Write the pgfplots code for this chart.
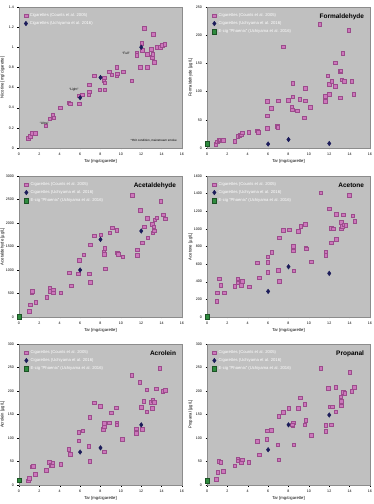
\documentclass[border=0pt]{standalone}
\usepackage{fontspec}
\setmainfont{Liberation Sans}
\usepackage{pgfplots}
\pgfplotsset{compat=1.18}
\definecolor{bgray}{HTML}{C0C0C0}
\definecolor{fgray}{HTML}{8C8C8C}
\definecolor{pinkf}{HTML}{CC77BB}
\definecolor{pinkd}{HTML}{9C4C8C}
\definecolor{navy}{HTML}{1C1C5A}
\definecolor{egreen}{HTML}{2E8B3E}
\tikzset{ttl/.style={font=\fontsize{6.5}{7}\selectfont\bfseries, anchor=north east}}
\pgfplotsset{
  panel/.style={
    scale only axis, width=163pt, height=141pt,
    axis background/.style={fill=bgray},
    axis line style={draw=fgray, line width=0.6pt},
    xmin=0, xmax=16, xtick={0,2,...,16}, ymin=0,
    tick align=outside, major tick length=1.5pt,
    tick style={black, line width=0.3pt},
    xtick pos=bottom, ytick pos=left,
    tick label style={font=\fontsize{3.6}{4}\selectfont},
    xlabel={Tar [mg/cigarette]},
    xlabel style={yshift=3pt, font=\fontsize{4.2}{5}\selectfont},
    every axis y label/.style={at={(axis description cs:-0.068,0.5)}, rotate=90, anchor=south, font=\fontsize{4.2}{5}\selectfont},
    /pgf/number format/assume math mode=true,
    /pgf/number format/1000 sep={},
    scaled ticks=false,
    legend style={at={(0.012,0.985)}, anchor=north west, draw=none, fill=none,
      text=white, font=\fontsize{4.2}{5}\selectfont, row sep=-0.6pt,
      legend cell align=left},
  },
  cnt/.style={only marks, mark=square*, mark size=1.8pt, mark options={fill=pinkf, draw=pinkd, line width=0.3pt}},
  uch/.style={only marks, mark=diamond*, mark size=2.3pt, mark options={fill=navy, draw=navy}},
  ecig/.style={only marks, mark=square*, mark size=2.2pt, mark options={fill=egreen, draw=egreen!60!black, line width=0.3pt}},
}
\newcommand{\lA}{Cigarettes (Counts et al. 2005)}
\newcommand{\lB}{Cigarettes (Uchiyama et al. 2016)}
\newcommand{\lC}{E-cig ``Phoenix'' (Uchiyama et al. 2016)}
\begin{document}
\begin{tikzpicture}
\useasboundingbox (0,0) rectangle (373pt,504pt);
% ---------------- Nicotine
\begin{axis}[panel, at={(19pt,356pt)}, anchor=south west, ymax=1.4,
  ytick={0,0.2,...,1.4}, ylabel={Nicotine [mg/cigarette]}]
\addplot[cnt] table {
0.92 0.10
1.08 0.12
1.25 0.145
1.58 0.15
2.6 0.22
3.0 0.29
3.3 0.33
3.4 0.30
4.05 0.40
4.87 0.45
5.0 0.44
5.9 0.44
5.9 0.52
6.2 0.53
6.85 0.53
6.9 0.56
6.9 0.63
7.4 0.72
7.9 0.58
8.3 0.67
8.35 0.70
8.4 0.65
8.4 0.58
8.85 0.76
9.1 0.73
9.6 0.80
9.6 0.72
9.65 0.74
10.2 0.76
11.05 0.67
11.55 0.94
11.55 0.92
11.9 0.80
12.05 1.04
12.1 0.97
12.3 1.19
12.55 0.93
12.55 0.80
13.0 0.98
13.05 0.90
13.1 0.93
13.15 1.13
13.25 0.85
13.5 1.00
13.85 1.00
14.05 1.02
14.3 1.03
};
\addlegendentry{\lA}
\addplot[uch] table {
6 0.50
8 0.70
12 1.00
};
\addlegendentry{\lB}
\node[font=\fontsize{3.2}{4}\selectfont, anchor=west] at (axis cs:1.7,0.245) {``Ultra''};
\node[font=\fontsize{3.2}{4}\selectfont, anchor=west] at (axis cs:4.6,0.58) {``Light''};
\node[font=\fontsize{3.2}{4}\selectfont, anchor=west] at (axis cs:9.8,0.935) {``Full''};
\node[font=\fontsize{3}{3.5}\selectfont, anchor=south east] at (rel axis cs:0.99,0.015) {*ISO condition, mainstream smoke};
\end{axis}
% ---------------- Formaldehyde
\begin{axis}[panel, at={(207pt,356pt)}, anchor=south west, ymax=250,
  ytick={0,50,...,250}, ylabel={Formaldehyde [µg/L]}]
\addplot[cnt] table {
0.86 7
1.0 11
1.16 14
1.26 15
1.42 15
1.6 14
2.7 12
3.0 21
3.2 23
3.35 24
3.45 27
4.07 28
4.9 31
5.0 28
5.9 35
5.9 57
5.9 83
6.3 71
6.9 39
6.95 37
7.0 84
7.45 180
7.95 85
8.3 72
8.35 68
8.4 91
8.4 115
8.87 66
9.1 87
9.55 54
9.65 106
9.65 84
10.1 72
11.05 220
11.6 83
11.6 92
11.85 128
12.0 113
12.0 96
12.25 119
12.55 151
12.6 110
13.05 136
13.1 137
13.05 89
13.2 121
13.3 168
13.45 119
13.9 209
14.2 118
14.4 96
};
\addlegendentry{\lA}
\addplot[uch] table {
6 7
8 15
12 8
};
\addlegendentry{\lB}
\addplot[ecig] table {
0 8
};
\addlegendentry{\lC}
\node[ttl] at (rel axis cs:0.985,0.975) {Formaldehyde};
\end{axis}
% ---------------- Acetaldehyde
\begin{axis}[panel, at={(19pt,187pt)}, anchor=south west, ymax=3000,
  ytick={0,500,...,3000}, ylabel={Acetaldehyde [µg/L]}]
\addplot[cnt] table {
0.97 120
1.07 263
1.23 526
1.3 547
1.63 313
2.73 420
3.0 618
3.0 547
3.33 569
3.33 519
4.1 519
4.9 945
5.1 668
5.83 924
5.9 1215
6.33 1329
6.9 924
7.0 746
7.0 1542
7.4 1734
8.0 1755
8.3 1379
8.33 1343
8.4 1471
8.47 1030
8.9 1791
9.13 1905
9.57 1848
9.63 1372
9.73 1343
10.17 1286
11.13 2587
11.57 1436
11.57 1315
11.9 2274
12.07 1578
12.3 1919
12.57 2104
12.63 1691
13.07 1976
13.13 1791
13.23 1919
13.27 1841
13.33 2075
13.5 2111
13.9 2466
14.17 2174
14.37 2090
};
\addlegendentry{\lA}
\addplot[uch] table {
6 1000
8 1650
12 1830
};
\addlegendentry{\lB}
\addplot[ecig] table {
0 10
};
\addlegendentry{\lC}
\node[ttl] at (rel axis cs:0.985,0.975) {Acetaldehyde};
\end{axis}
% ---------------- Acetone
\begin{axis}[panel, at={(207pt,187pt)}, anchor=south west, ymax=1600,
  ytick={0,200,...,1600}, ylabel={Acetone [µg/L]}]
\addplot[cnt] table {
0.94 182
1.0 276
1.2 435
1.34 363
1.68 276
2.72 352
3.0 435
3.0 390
3.33 363
3.46 408
4.13 344
4.9 617
5.14 446
5.95 620
5.95 685
5.95 510
6.35 738
7.0 530
7.06 405
7.06 900
7.5 987
8.07 991
8.44 768
8.44 806
8.44 753
8.5 526
8.97 972
9.18 1033
9.64 1051
9.68 787
9.75 775
10.25 628
11.16 1411
11.66 741
11.66 700
11.97 1229
12.17 843
12.2 1006
12.37 1002
12.67 1165
12.67 881
13.14 1078
13.14 1002
13.28 1033
13.34 1161
13.44 1048
13.6 1040
13.98 1384
14.29 1150
14.49 1089
};
\addlegendentry{\lA}
\addplot[uch] table {
6 290
8 570
12 495
};
\addlegendentry{\lB}
\addplot[ecig] table {
0 5
};
\addlegendentry{\lC}
\node[ttl] at (rel axis cs:0.985,0.975) {Acetone};
\end{axis}
% ---------------- Acrolein
\begin{axis}[panel, at={(19pt,19pt)}, anchor=south west, ymax=300,
  ytick={0,50,...,300}, ylabel={Acrolein [µg/L]}]
\addplot[cnt] table {
0.9 9
1.0 14
1.23 39
1.36 40
1.6 23
2.65 32
2.98 49
3.15 42
3.3 47
3.25 41
4.07 44
4.87 76
5.03 66
5.86 94
5.86 113
6.23 116
6.85 83
6.95 51
6.95 144
7.38 175
7.95 168
8.28 119
8.34 124
8.38 132
8.38 71
8.84 133
9.04 154
9.54 165
9.57 133
9.6 128
10.13 98
11.06 234
11.52 120
11.52 110
11.85 219
11.99 166
12.09 119
12.25 179
12.52 156
12.52 203
12.98 176
13.08 164
13.11 181
13.25 176
13.44 205
13.8 249
14.1 200
14.34 202
};
\addlegendentry{\lA}
\addplot[uch] table {
6 70
8 79
12 128
};
\addlegendentry{\lB}
\addplot[ecig] table {
0 10
};
\addlegendentry{\lC}
\node[ttl] at (rel axis cs:0.985,0.975) {Acrolein};
\end{axis}
% ---------------- Propanal
\begin{axis}[panel, at={(207pt,19pt)}, anchor=south west, ymax=300,
  ytick={0,50,...,300}, ylabel={Propanal [µg/L]}]
\addplot[cnt] table {
0.9 13
1.03 27
1.16 51
1.33 49
1.6 30
2.73 41
3.0 56
3.06 52
3.33 49
3.43 54
4.1 49
4.92 93
5.12 65
5.86 98
5.92 116
6.32 117
6.92 86
7.02 54
7.02 147
7.45 155
8.02 164
8.42 126
8.45 133
8.52 86
8.38 128
8.92 164
9.15 186
9.58 172
9.68 138
9.58 128
10.21 106
11.14 248
11.64 127
11.64 114
11.91 206
12.08 167
12.18 128
12.31 167
12.64 156
12.64 208
13.11 188
13.17 178
13.17 169
13.34 198
13.51 195
14.0 240
14.2 200
14.47 208
};
\addlegendentry{\lA}
\addplot[uch] table {
6 75
8 128
12 149
};
\addlegendentry{\lB}
\addplot[ecig] table {
0 9
};
\addlegendentry{\lC}
\node[ttl] at (rel axis cs:0.985,0.975) {Propanal};
\end{axis}
\end{tikzpicture}
\end{document}
